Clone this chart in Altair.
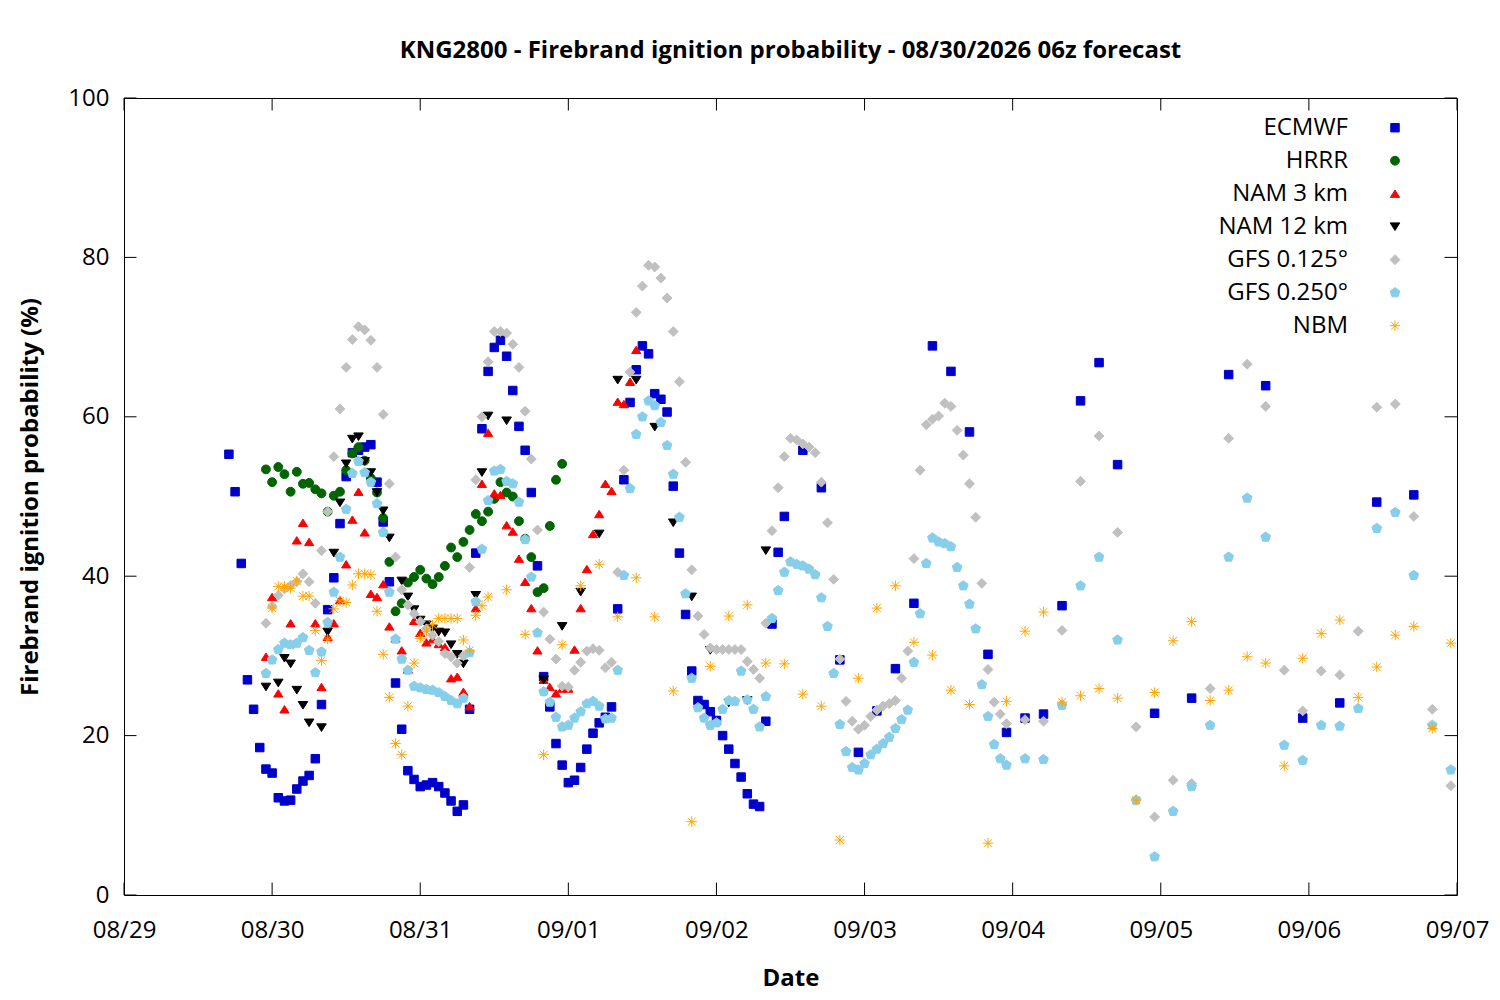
import altair as alt
import pandas as pd

# ---------------- data ----------------
date_labels = ["08/29", "08/30", "08/31", "09/01", "09/02",
               "09/03", "09/04", "09/05", "09/06", "09/07"]
y_tick_values = [0, 20, 40, 60, 80, 100]

series_names = ["ECMWF", "HRRR", "NAM 3 km", "NAM 12 km",
                "GFS 0.125°", "GFS 0.250°", "NBM"]
series_colors = ["#0000cd", "#006400", "#ff0000", "#000000",
                 "#c0c0c0", "#87ceeb", "#ffa500"]
series_shapes = [
    "square",
    "circle",
    "M0,-0.8L1,0.8L-1,0.8Z",
    "M0,0.8L1,-0.8L-1,-0.8Z",
    "M0,-1L1,0L0,1L-1,0Z",
    "M0,-1L0.951,-0.309L0.588,0.809L-0.588,0.809L-0.951,-0.309Z",
    "M-1,0L1,0M0,-1L0,1M-0.75,-0.75L0.75,0.75M-0.75,0.75L0.75,-0.75",
]
series_sizes = [72, 110, 130, 130, 81, 100, 130]

# hours are counted from 08/29 00:00; (start hour, step in hours, values)
ecmwf_hourly = [
    55.3, 50.6, 41.6, 27.0, 23.3, 18.5, 15.8, 15.3, 12.2, 11.8,
    11.9, 13.3, 14.3, 15.0, 17.1, 23.9, 35.8, 39.8, 46.6, 52.5,
    55.5, 55.8, 56.2, 56.5, 51.8, 46.8, 39.3, 26.6, 20.8, 15.6,
    14.5, 13.6, 13.8, 14.1, 13.6, 12.8, 11.8, 10.5, 11.3, 23.3,
    42.9, 58.5, 65.7, 68.7, 69.6, 67.6, 63.3, 58.8, 55.8, 50.5,
    41.3, 27.4, 23.6, 19.0, 16.3, 14.1, 14.4, 16.0, 18.3, 20.3,
    21.6, 22.3, 23.6, 35.9, 52.1, 61.8, 65.9, 68.9, 67.9, 62.9,
    62.2, 60.6, 51.3, 42.9, 35.2, 28.1, 24.4, 23.9, 23.0, 21.9,
    20.0, 18.3, 16.5, 14.8, 12.7, 11.4, 11.1, 21.8, 34.0, 43.0,
    47.5,
]
ecmwf_3h = [55.8, 51.1, 29.5, 17.9, 23.1, 28.4, 36.6, 68.9, 65.7,
            58.1, 30.2, 20.4, 22.2, 22.7, 36.3, 62.0, 66.8, 54.0]
ecmwf_6h = [22.8, 24.7, 65.3, 63.9, 22.2, 24.1, 49.3, 50.2]

hrrr_hourly = [
    53.4, 51.8, 53.7, 52.8, 50.6, 53.1, 51.6, 51.7, 50.9, 50.4,
    48.1, 50.1, 50.6, 53.3, 55.4, 56.2, 54.5, 52.3, 50.5, 47.3,
    41.8, 35.6, 36.6, 39.2, 39.9, 40.8, 39.7, 39.0, 39.9, 41.3,
    43.6, 42.4, 44.3, 45.8, 47.8, 46.9, 48.1, 49.7, 51.8, 50.5,
    50.0, 46.9, 44.7, 42.4, 38.0, 38.5, 46.3, 52.1, 54.1,
]

nam3_hourly = [
    29.9, 37.4, 25.3, 23.3, 34.1, 44.5, 46.7, 44.3, 34.1, 26.1,
    32.4, 34.1, 37.0, 41.5, 47.1, 50.6, 45.5, 37.8, 37.4, 39.0,
    33.7, 32.2, 30.7, 28.3, 34.4, 32.9, 31.7, 32.1, 31.5, 31.1,
    27.2, 27.4, 25.5, 23.7, 36.0, 51.6, 58.0, 50.4, 50.2, 46.4,
    45.6, 42.2, 39.3, 36.0, 30.7, 27.0, 26.1, 25.3, 25.9, 25.9,
    30.8, 36.0, 40.9, 45.3, 47.8, 51.6, 50.7, 61.9, 61.6, 64.4,
    68.4,
]

nam12_hourly = [
    26.1, None, 26.6, 29.7, 29.0, 25.7, 23.8, 21.6, None, 21.0,
    33.0, 42.9, 49.2, 54.1, 57.2, 57.5, 54.4, 53.0, 50.5, 48.2,
    44.8, None, 39.4, 37.4, 35.8, 34.5, 33.9, 33.4, 33.0, 32.9,
    31.4, 30.2, 29.0, None, 37.6, 53.0, 60.1,
]
nam12_3h = [59.5, None, 27.0, 33.7, 38.0, 45.3, 64.6, 64.6, 58.7,
            46.7, 37.4, 30.7, 24.1, 24.4, 43.2]

gfs125_hourly = [
    34.1, 36.2, 37.6, 38.4, 38.8, 39.3, 40.3, 39.3, 36.6, 43.2,
    48.1, 55.0, 61.0, 66.2, 69.7, 71.3, 70.9, 69.6, 66.2, 60.3,
    51.6, 42.4, 38.3, 36.4, 35.3, 34.3, 33.4, 32.6, 31.8, 30.3,
    29.9, 29.1, 30.0, 41.1, 52.1, 60.0, 66.9, 70.7, 70.7, 70.5,
    69.1, 66.2, 60.7, 54.7, 45.8, 35.5, 32.1, 29.6, 26.2, 26.1,
    28.2, 29.2, 30.6, 30.9, 30.7, 28.5, 29.2, 40.5, 53.3, 65.6,
    73.1, 76.4, 79.0, 78.8, 77.4, 74.9, 70.7, 64.4, 54.3, 40.8,
    35.0, 32.7, 31.0, 30.8, 30.8, 30.8, 30.8, 30.8, 29.3, 28.3,
    27.2, 34.1, 45.7, 51.1, 55.0, 57.3, 57.1, 56.6, 56.2, 55.5,
    51.8, 46.7, 39.6, 29.6, 24.3, 21.8, 20.8, 21.3, 22.4, 23.2,
    23.7, 24.0, 24.4, 27.2, 30.6, 42.2, 53.3, 59.0, 59.7, 60.1,
    61.7, 61.3, 58.3, 55.2, 51.6, 47.4, 39.1, 28.3, 24.2, 22.7,
    21.5,
]
gfs125_3h = [22.0, 21.8, 33.2, 51.9, 57.6, 45.5, 21.1, 9.8, 14.4,
             14.0, 25.9, 57.3, 66.6, 61.3, 28.2, 23.1, 28.1, 27.6,
             33.1, 61.2, 61.6, 47.5, 23.3, 13.7]

gfs250_hourly = [
    27.8, 29.5, 30.8, 31.6, 31.4, 31.6, 32.3, 30.7, 27.9, 30.5,
    34.2, 38.0, 42.4, 48.4, 52.9, 54.4, 53.0, 51.8, 49.1, 45.5,
    38.0, 32.1, 29.6, 28.2, 26.2, 26.0, 25.8, 25.7, 25.4, 24.9,
    24.4, 24.0, 24.7, 30.4, 36.8, 43.4, 49.5, 53.2, 53.4, 51.9,
    51.6, 49.3, 44.6, 39.9, 32.9, 25.5, 24.2, 22.3, 21.1, 21.3,
    22.2, 23.0, 24.0, 24.3, 23.7, 22.1, 22.2, 28.2, 40.1, 51.0,
    57.8, 60.0, 62.0, 61.4, 59.3, 56.4, 52.8, 47.4, 37.8, 27.2,
    23.5, 22.2, 21.3, 21.6, 23.3, 24.4, 24.3, 28.1, 24.5, 23.3,
    21.1, 24.9, 34.7, 38.2, 40.5, 41.8, 41.5, 41.3, 40.9, 40.2,
    37.3, 33.7, 27.8, 21.4, 18.0, 16.0, 15.7, 16.5, 17.6, 18.3,
    19.0, 19.8, 20.9, 22.0, 23.2, 29.2, 35.3, 41.6, 44.8, 44.3,
    44.1, 43.7, 41.1, 38.8, 36.5, 33.4, 26.4, 22.4, 18.9, 17.1,
    16.3,
]
gfs250_3h = [17.1, 17.0, 23.8, 38.8, 42.4, 32.0, 11.9, 4.8, 10.5,
             13.6, 21.3, 42.4, 49.8, 44.9, 18.8, 16.9, 21.3, 21.2,
             23.4, 46.0, 48.0, 40.1, 21.3, 15.7]

nbm_hourly = [
    36.0, 38.7, 38.7, 38.5, 39.4, 37.5, 37.5, 33.2, 29.4, 32.1,
    35.9, 36.9, 36.7, 38.9, 40.3, 40.3, 40.2, 35.6, 30.2, 24.8,
    19.0, 17.6, 23.7, 29.1, 32.2, 33.1, 33.9, 34.7, 34.7, 34.7,
    34.7, 32.0, 30.7, 35.1, 36.3, 37.4,
]
nbm_3h = [
    38.3, 32.7, 17.6, 31.4, 38.8, 41.5, 34.9, 39.8, 34.9, 25.6,
    9.2, 28.7, 35.0, 36.4, 29.1, 29.0, 25.2, 23.7, 6.9, 27.2,
    36.0, 38.8, 31.7, 30.1, 25.7, 23.9, 6.5, 24.3, 33.1, 35.5,
    24.2, 25.0, 25.9, 24.7, 11.9, 25.4, 31.9, 34.3, 24.4, 25.7,
    29.9, 29.1, 16.2, 29.7, 32.8, 34.5, 24.8, 28.6, 32.6, 33.7,
    20.9, 31.6,
]

segments = [
    ("ECMWF", 17, 1, ecmwf_hourly), ("ECMWF", 110, 3, ecmwf_3h),
    ("ECMWF", 167, 6, ecmwf_6h),
    ("HRRR", 23, 1, hrrr_hourly),
    ("NAM 3 km", 23, 1, nam3_hourly),
    ("NAM 12 km", 23, 1, nam12_hourly), ("NAM 12 km", 62, 3, nam12_3h),
    ("GFS 0.125°", 23, 1, gfs125_hourly), ("GFS 0.125°", 146, 3, gfs125_3h),
    ("GFS 0.250°", 23, 1, gfs250_hourly), ("GFS 0.250°", 146, 3, gfs250_3h),
    ("NBM", 24, 1, nbm_hourly), ("NBM", 62, 3, nbm_3h),
]

rows = []
for name, start, step, vals in segments:
    for i, v in enumerate(vals):
        if v is not None:
            rows.append({"series": name, "hour": start + i * step, "value": v})
df = pd.DataFrame(rows)
df["order"] = df["series"].map({n: i for i, n in enumerate(series_names)})
df = df.sort_values(["order", "hour"], kind="stable").reset_index(drop=True)

x_ticks = pd.DataFrame({"hour": [24 * i for i in range(len(date_labels))]})
y_ticks = pd.DataFrame({"value": y_tick_values})

# ---------------- chart ----------------
W, H = 1333, 797
FONT = "Open Sans"
TICK = 12.5

label_expr = "[" + ",".join("'%s'" % d for d in date_labels) + "][round(datum.value / 24)]"

legend = alt.Legend(
    title=None, orient="none", legendX=1035.5, legendY=17.7,
    labelAlign="right", labelOffset={"expr": "-59"}, symbolOffset=223.5,
    labelFont=FONT, labelFontSize=24, labelColor="black", labelLimit=400,
    rowPadding=9, padding=0, symbolStrokeWidth=1, symbolOpacity=1,
)

x_enc = alt.X(
    "hour:Q",
    scale=alt.Scale(domain=[0, 216], nice=False, zero=False),
    axis=alt.Axis(
        values=[24 * i for i in range(len(date_labels))],
        labelExpr=label_expr, ticks=False, tickSize=0, domain=False, grid=False,
        labelFont=FONT, labelFontSize=24, labelColor="black",
        labelBaseline="alphabetic", labelPadding=42, labelFlush=False,
        title="Date", titleFont=FONT, titleFontSize=24, titleFontWeight="bold",
        titleColor="black", titleBaseline="alphabetic", titleY=90.5,
    ),
)
y_enc = alt.Y(
    "value:Q",
    scale=alt.Scale(domain=[0, 100], nice=False, zero=True),
    axis=alt.Axis(
        values=y_tick_values, ticks=False, tickSize=0, domain=False, grid=False,
        labelFont=FONT, labelFontSize=24, labelColor="black",
        labelAlign="right", labelBaseline="middle", labelPadding=15,
        title="Firebrand ignition probability (%)", titleFont=FONT,
        titleFontSize=24, titleFontWeight="bold", titleColor="black",
        titleAngle=270, titleBaseline="alphabetic", titleX=-87,
    ),
)

points = alt.Chart(df).mark_point(filled=True, opacity=1, strokeWidth=1).encode(
    x=x_enc,
    y=y_enc,
    fill=alt.Fill("series:N", scale=alt.Scale(domain=series_names, range=series_colors), legend=legend),
    stroke=alt.Stroke("series:N", scale=alt.Scale(domain=series_names, range=series_colors), legend=legend),
    shape=alt.Shape("series:N", scale=alt.Scale(domain=series_names, range=series_shapes), legend=legend),
    size=alt.Size("series:N", scale=alt.Scale(domain=series_names, range=series_sizes), legend=legend),
    order=alt.Order("order:Q"),
)

tick_style = dict(color="black", strokeWidth=1)
bottom_ticks = alt.Chart(x_ticks).mark_rule(**tick_style).encode(
    x="hour:Q", y=alt.value(H), y2=alt.value(H - TICK))
top_ticks = alt.Chart(x_ticks).mark_rule(**tick_style).encode(
    x="hour:Q", y=alt.value(0), y2=alt.value(TICK))
left_ticks = alt.Chart(y_ticks).mark_rule(**tick_style).encode(
    y="value:Q", x=alt.value(0), x2=alt.value(TICK))
right_ticks = alt.Chart(y_ticks).mark_rule(**tick_style).encode(
    y="value:Q", x=alt.value(W), x2=alt.value(W - TICK))

chart = alt.layer(points, bottom_ticks, top_ticks, left_ticks, right_ticks).properties(
    width=W, height=H,
    title=alt.TitleParams(
        "KNG2800 - Firebrand ignition probability - 08/30/2026 06z forecast",
        font=FONT, fontSize=24, fontWeight="bold", color="black",
        anchor="middle", frame="group", baseline="alphabetic", offset=4,
    ),
    autosize=alt.AutoSizeParams(type="none"),
    padding={"left": 116, "top": 90, "right": 35, "bottom": 97},
).configure(
    font=FONT, background="white",
).configure_view(
    stroke="black", strokeWidth=1,
)

chart.save("out.html", embed_options={"renderer": "svg", "actions": False})
